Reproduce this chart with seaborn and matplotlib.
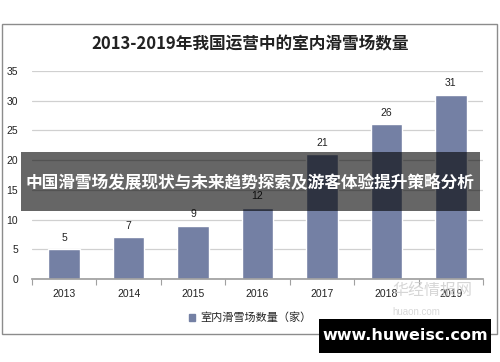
import matplotlib
matplotlib.use("Agg")
import matplotlib.pyplot as plt
import matplotlib.patches as mpatches
from matplotlib.ticker import FixedLocator
import pandas as pd
import seaborn as sns

# data
years = ["2013", "2014", "2015", "2016", "2017", "2018", "2019"]
counts = [5, 7, 9, 12, 21, 26, 31]
series_name = "室内滑雪场数量（家）"
title = "2013-2019年我国运营中的室内滑雪场数量"
banner_text = "中国滑雪场发展现状与未来趋势探索及游客体验提升策略分析"
site_text = "www.huweisc.com"

bar_color = "#7480A4"

sns.set_theme(style="white")
plt.rcParams["font.family"] = ["Liberation Sans", "Noto Sans CJK SC", "DejaVu Sans"]

df = pd.DataFrame({"year": years, "count": counts})

fig = plt.figure(figsize=(5.0, 3.62), dpi=100)
fig.patch.set_facecolor("white")

# outer chart frame
frame = mpatches.Rectangle((2 / 500, 1 - 334 / 362), 495 / 500, 310 / 362,
                           transform=fig.transFigure, fill=False,
                           edgecolor="#8c8c8c", linewidth=1.0)
fig.patches.append(frame)

ax = fig.add_axes([32 / 500, 1 - 279 / 362, 451 / 500, 208 / 362])
sns.barplot(data=df, x="year", y="count", color=bar_color, width=0.49,
            saturation=1, ax=ax)

ax.set_xlim(-0.5, 6.5)
ax.set_ylim(0, 35)
ax.set_yticks(range(0, 36, 5))
ax.yaxis.grid(True, color="#d0d0d0", linewidth=0.9)
ax.set_axisbelow(True)
ax.set_xlabel("")
ax.set_ylabel("")
for s in ["top", "right", "left"]:
    ax.spines[s].set_visible(False)
ax.spines["bottom"].set_color("#a0a0a0")
ax.tick_params(axis="y", length=0, labelsize=7.5, pad=10, colors="#222222")
ax.tick_params(axis="x", which="major", length=0, labelsize=7.5, pad=7,
               colors="#222222")
ax.xaxis.set_minor_locator(FixedLocator([i - 0.5 for i in range(len(years) + 1)]))
ax.tick_params(axis="x", which="minor", length=4, color="#a0a0a0", width=0.8,
               bottom=True)

for i, v in enumerate(counts):
    ax.text(i, v + 1.1, str(v), ha="center", va="bottom", fontsize=7.5,
            color="#222222")

fig.text(0.5, 1 - 44 / 362, title, ha="center", va="center", fontsize=12,
         fontweight="bold", family=["Noto Sans CJK SC", "DejaVu Sans"],
         color="#222222")

# legend
ax.legend(handles=[mpatches.Patch(color=bar_color, label=series_name)],
          loc="center", bbox_to_anchor=(0.5, 1 - 318 / 362),
          bbox_transform=fig.transFigure, frameon=False, handlelength=0.6,
          handleheight=0.6, handletextpad=0.4,
          prop={"family": ["Noto Sans CJK SC"], "size": 8})

# faint logo watermark
fig.text(392 / 500, 1 - 290 / 362, "华经情报网", fontsize=11.5, color="#cccccc",
         family=["Noto Sans CJK SC"], ha="left", va="center", alpha=0.8)
fig.text(392 / 500, 1 - 312 / 362, "huaon.com", fontsize=7, color="#d8d8d8",
         ha="left", va="center")

# overlay banner
banner = mpatches.Rectangle((21 / 500, 1 - 211 / 362), 459 / 500, 59 / 362,
                            transform=fig.transFigure, facecolor="black",
                            alpha=0.6, edgecolor="none", zorder=10)
fig.patches.append(banner)
fig.text(0.5, 1 - 182 / 362, banner_text, ha="center", va="center",
         fontsize=12, fontweight="bold", color="white",
         family=["Noto Sans CJK SC"], zorder=11)

# site watermark box
site_box = mpatches.Rectangle((319 / 500, 1 - 353 / 362), 172 / 500, 34 / 362,
                              transform=fig.transFigure, facecolor="black",
                              edgecolor="none", zorder=10)
fig.patches.append(site_box)
fig.text(405 / 500, 1 - 336 / 362, site_text, ha="center", va="center",
         fontsize=11.5, fontweight="bold", color="white",
         family=["DejaVu Sans"], zorder=11)

fig.savefig("out.png", dpi=100, facecolor="white")
